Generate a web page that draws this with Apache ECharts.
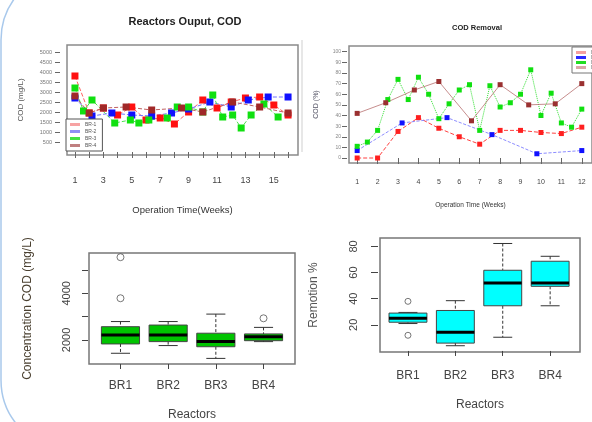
<!DOCTYPE html>
<html>
<head>
<meta charset="utf-8">
<script src="https://cdn.jsdelivr.net/npm/echarts@6/dist/echarts.min.js"></script>
<style>html,body{margin:0;padding:0;background:#fff}#c{width:592px;height:422px}</style>
</head>
<body>
<div id="c"></div>
<script>
// ---------- Panel 1: Reactors Output, COD (mg/L) ----------
const p1WeekTicks = [1,2,3,4,5,6,7,8,9,10,11,12,13,14,15,16];
const p1WeekLabels = [1,3,5,7,9,11,13,15];
const p1CodTicks = [500,1000,1500,2000,2500,3000,3500,4000,4500,5000];
const p1Names = ['BR-1','BR-2','BR-3','BR-4'];
const weeksRed1 = [1,2,3,4,5,6,7,8,9,10,11,12,13,14,15,16];
const codRed = [3800,1950,2200,1850,2250,1600,1700,1400,2000,2600,2200,2500,2700,2750,2350,1850];
const weeksBlue1 = [1,2.2,3.6,5,6.4,7.8,9,10.5,12,13.2,14.6,16];
const codBlue = [2700,1800,1950,1850,1800,1950,2150,2500,2250,2600,2750,2750];
const weeksGreen1 = [1,1.6,2.2,3.8,4.9,5.5,6.2,7.5,8.2,9,10,10.7,11.4,12.1,12.7,13.4,14.3,15.3];
const codGreen = [3200,2050,2600,1450,1600,1450,1600,1700,2250,2250,2000,2850,1750,1850,1200,1850,2400,1750];
const weeksBrown1 = [1,2,3,4.6,6.4,8.5,10,12.1,14,16];
const codBrown = [2800,1950,2200,2250,2100,2200,2000,2500,2250,1950];

// ---------- Panel 2: COD Removal (%) ----------
const p2WeekTicks = [1,2,3,4,5,6,7,8,9,10,11,12];
const p2RemTicks = [0,10,20,30,40,50,60,70,80,90,100];
const p2Names = ['BR1','BR2','BR3','BR4'];
const weeksRed2 = [1,2,3,4,5,6,7,8,9,10,11,12];
const remRed = [0,0,25,38,28,20,13,26,26,24,23,29];
const weeksBlue2 = [1,3.2,5.4,7.6,9.8,12];
const remBlue = [7,33,38,22,4,7];
const weeksGreen2 = [1,1.5,2,2.5,3,3.5,4,4.5,5,5.5,6,6.5,7,7.5,8,8.5,9,9.5,10,10.5,11,11.5,12];
const remGreen = [11,15,26,55,74,55,76,60,37,51,64,69,26,68,48,52,60,83,40,61,33,29,46];
const weeksBrown2 = [1,2.4,3.8,5,6.6,8,9.4,10.7,12];
const remBrown = [42,52,64,72,35,69,50,51,70];

// ---------- Panel 3: box plot COD concentration ----------
const reactors = ['BR1','BR2','BR3','BR4'];
const reactorPos = [1,2,3,4];
const codMin = [1430,1760,1210,1930];
const codQ1 = [1830,1930,1710,1970];
const codMedian = [2210,2210,1930,2140];
const codQ3 = [2570,2640,2290,2260];
const codMax = [2790,2790,3110,2540];
const codOutX = [1,1,4];
const codOutY = [3790,5550,2930];
const p3Ticks = [2000,3000,4000,5000];
const p3Labels = [2000,4000];

// ---------- Panel 4: box plot Removal % ----------
const remMin = [21,4,10.5,34.6];
const remQ1 = [22,6,34.6,49.5];
const remMedian = [25,14.4,52,52];
const remQ3 = [29,31,61.8,68.7];
const remMax = [29.5,38.5,82.3,72.5];
const remOutX = [1,1];
const remOutY = [38,12];
const p4Ticks = [20,40,60,80];

const FONT = 'Liberation Sans, Arial, sans-serif';
const zip = (xs, ys) => xs.map((x, i) => [x, ys[i]]);
const plain = v => String(v);

function boxRenderer(fill) {
  return function (params, api) {
    const x = api.value(0);
    const pMin = api.coord([x, api.value(1)]);
    const pQ1 = api.coord([x, api.value(2)]);
    const pMed = api.coord([x, api.value(3)]);
    const pQ3 = api.coord([x, api.value(4)]);
    const pMax = api.coord([x, api.value(5)]);
    const hw = api.size([0.8, 0])[0] / 2;
    const cw = hw / 2;
    const cx = pMed[0];
    const wl = {stroke: '#333', lineWidth: 1, lineDash: [3, 2]};
    const sl = {stroke: '#333', lineWidth: 1};
    return {
      type: 'group',
      children: [
        {type: 'line', shape: {x1: cx, y1: pMax[1], x2: cx, y2: pQ3[1]}, style: wl},
        {type: 'line', shape: {x1: cx, y1: pQ1[1], x2: cx, y2: pMin[1]}, style: wl},
        {type: 'line', shape: {x1: cx - cw, y1: pMax[1], x2: cx + cw, y2: pMax[1]}, style: sl},
        {type: 'line', shape: {x1: cx - cw, y1: pMin[1], x2: cx + cw, y2: pMin[1]}, style: sl},
        {type: 'rect', shape: {x: cx - hw, y: pQ3[1], width: 2 * hw, height: pQ1[1] - pQ3[1]},
          style: {fill: fill, stroke: '#444', lineWidth: 1}},
        {type: 'line', shape: {x1: cx - hw, y1: pMed[1], x2: cx + hw, y2: pMed[1]},
          style: {stroke: '#000', lineWidth: 3}}
      ]
    };
  };
}

const boxData3 = reactorPos.map((p, i) => [p, codMin[i], codQ1[i], codMedian[i], codQ3[i], codMax[i]]);
const boxData4 = reactorPos.map((p, i) => [p, remMin[i], remQ1[i], remMedian[i], remQ3[i], remMax[i]]);

const axisTxt = {fontFamily: FONT, color: '#444'};

const option = {
  animation: false,
  backgroundColor: '#fff',
  textStyle: {fontFamily: FONT},
  title: [
    {text: 'Reactors Ouput, COD', left: 180, top: 11, textAlign: 'center',
      textStyle: {fontSize: 11, fontWeight: 'bold', color: '#222', fontFamily: FONT}},
    {text: 'COD Removal', left: 472, top: 19, textAlign: 'center',
      textStyle: {fontSize: 7.5, fontWeight: 'bold', color: '#222', fontFamily: FONT}}
  ],
  graphic: [
    {type: 'rect', shape: {x: 1, y: -30, width: 1000, height: 480, r: 70},
      style: {fill: 'none', stroke: '#a9c9ec', lineWidth: 1.5}, silent: true, z: -1},
    {type: 'line', shape: {x1: 302, y1: 40, x2: 302, y2: 152},
      style: {stroke: '#cfcfcf', lineWidth: 1}, silent: true}
  ],
  legend: [
    {
      orient: 'vertical', left: 66, top: 119, itemGap: 2, itemWidth: 10, itemHeight: 3,
      icon: 'rect', padding: [3, 6, 3, 4], backgroundColor: '#fff',
      borderColor: '#555', borderWidth: 1, z: 10,
      textStyle: {fontSize: 5, color: '#555', fontFamily: FONT},
      data: [
        {name: 'BR-1', itemStyle: {color: '#f7a3a3'}},
        {name: 'BR-2', itemStyle: {color: '#8f8ff5'}},
        {name: 'BR-3', itemStyle: {color: '#44e044'}},
        {name: 'BR-4', itemStyle: {color: '#c08080'}}
      ]
    },
    {
      orient: 'vertical', left: 572, top: 47, itemGap: 0, itemWidth: 10, itemHeight: 3,
      icon: 'rect', padding: [3, 6, 3, 4], backgroundColor: '#fff',
      borderColor: '#777', borderWidth: 1, z: 10,
      textStyle: {fontSize: 5, color: '#777', fontFamily: FONT},
      data: [
        {name: 'BR1', itemStyle: {color: '#f5a0a0'}},
        {name: 'BR2', itemStyle: {color: '#2a2aff'}},
        {name: 'BR3', itemStyle: {color: '#22dd22'}},
        {name: 'BR4', itemStyle: {color: '#d9a8a8'}}
      ]
    }
  ],
  grid: [
    {left: 67, top: 45, width: 231, height: 110, show: true, borderColor: '#8a8a8a', borderWidth: 1.5, backgroundColor: '#fff'},
    {left: 349, top: 46, width: 247, height: 117, show: true, borderColor: '#8a8a8a', borderWidth: 1.5, backgroundColor: '#fff'},
    {left: 89, top: 253, width: 206, height: 111, show: true, borderColor: '#777', borderWidth: 1.5, backgroundColor: '#fff'},
    {left: 380, top: 238, width: 200, height: 114, show: true, borderColor: '#777', borderWidth: 1.5, backgroundColor: '#fff'}
  ],
  xAxis: [
    {gridIndex: 0, type: 'value', min: 0.44, max: 16.7, offset: 3,
      axisLine: {show: false}, splitLine: {show: false},
      axisTick: {customValues: p1WeekTicks, length: 6, lineStyle: {color: '#666'}},
      axisLabel: {customValues: p1WeekLabels, formatter: plain, fontSize: 9, margin: 18, ...axisTxt},
      name: 'Operation Time(Weeks)', nameLocation: 'middle', nameGap: 47,
      nameTextStyle: {fontSize: 9.5, color: '#333', fontFamily: FONT}},
    {gridIndex: 1, type: 'value', min: 0.6, max: 12.5,
      axisLine: {show: false}, splitLine: {show: false},
      axisTick: {customValues: p2WeekTicks, length: 6, lineStyle: {color: '#666'}},
      axisLabel: {customValues: p2WeekTicks, formatter: plain, fontSize: 7, margin: 16, ...axisTxt},
      name: 'Operation Time (Weeks)', nameLocation: 'middle', nameGap: 39,
      nameTextStyle: {fontSize: 6.5, color: '#333', fontFamily: FONT}},
    {gridIndex: 2, type: 'value', min: 0.34, max: 4.66,
      axisLine: {show: false}, splitLine: {show: false},
      axisTick: {customValues: reactorPos, length: 5, lineStyle: {color: '#444'}},
      axisLabel: {customValues: reactorPos, formatter: v => reactors[Math.round(v) - 1], fontSize: 12, margin: 16, ...axisTxt},
      name: 'Reactors', nameLocation: 'middle', nameGap: 45,
      nameTextStyle: {fontSize: 12, color: '#444', fontFamily: FONT}},
    {gridIndex: 3, type: 'value', min: 0.41, max: 4.63,
      axisLine: {show: false}, splitLine: {show: false},
      axisTick: {customValues: reactorPos, length: 5, lineStyle: {color: '#444'}},
      axisLabel: {customValues: reactorPos, formatter: v => reactors[Math.round(v) - 1], fontSize: 12, margin: 18, ...axisTxt},
      name: 'Reactors', nameLocation: 'middle', nameGap: 47,
      nameTextStyle: {fontSize: 12, color: '#444', fontFamily: FONT}}
  ],
  yAxis: [
    {gridIndex: 0, type: 'value', min: -150, max: 5350, offset: 7,
      axisLine: {show: false}, splitLine: {show: false},
      axisTick: {customValues: p1CodTicks, length: 5, lineStyle: {color: '#666'}},
      axisLabel: {customValues: p1CodTicks, formatter: plain, fontSize: 5.5, margin: 8, ...axisTxt, color: '#777'},
      name: 'COD (mg/L)', nameLocation: 'middle', nameGap: 35, nameRotate: 90,
      nameTextStyle: {fontSize: 8, color: '#555', fontFamily: FONT}},
    {gridIndex: 1, type: 'value', min: -4.7, max: 105.4, offset: 2,
      axisLine: {show: false}, splitLine: {show: false},
      axisTick: {customValues: p2RemTicks, length: 5, lineStyle: {color: '#666'}},
      axisLabel: {customValues: p2RemTicks, formatter: plain, fontSize: 5, margin: 6, ...axisTxt, color: '#888'},
      name: 'COD (%)', nameLocation: 'middle', nameGap: 27, nameRotate: 90,
      nameTextStyle: {fontSize: 7, color: '#556', fontFamily: FONT}},
    {gridIndex: 2, type: 'value', min: 970, max: 5730, offset: 1,
      axisLine: {show: false}, splitLine: {show: false},
      axisTick: {customValues: p3Ticks, length: 6, lineStyle: {color: '#444'}},
      axisLabel: {customValues: p3Labels, formatter: plain, rotate: 90, fontSize: 11, margin: 16, ...axisTxt},
      name: 'Concentration COD (mg/L)', nameLocation: 'middle', nameGap: 54, nameRotate: 90,
      nameTextStyle: {fontSize: 12, color: '#4a4030', fontFamily: FONT}},
    {gridIndex: 3, type: 'value', min: -0.8, max: 86.5, offset: 2,
      axisLine: {show: false}, splitLine: {show: false},
      axisTick: {customValues: p4Ticks, length: 7, lineStyle: {color: '#444'}},
      axisLabel: {customValues: p4Ticks, formatter: plain, rotate: 90, fontSize: 11, margin: 19, ...axisTxt},
      name: 'Remotion %', nameLocation: 'middle', nameGap: 58, nameRotate: 90,
      nameTextStyle: {fontSize: 12, color: '#555', fontFamily: FONT}}
  ],
  series: [
    // Panel 1
    {name: p1Names[0], type: 'line', xAxisIndex: 0, yAxisIndex: 0, data: zip(weeksRed1, codRed),
      symbol: 'rect', symbolSize: 7, itemStyle: {color: '#ff1010'}, lineStyle: {type: 'dashed', width: 1, color: '#ff6060'}},
    {name: p1Names[1], type: 'line', xAxisIndex: 0, yAxisIndex: 0, data: zip(weeksBlue1, codBlue),
      symbol: 'rect', symbolSize: 7, itemStyle: {color: '#1010ff'}, lineStyle: {type: 'dashed', width: 1, color: '#7070ff'}},
    {name: p1Names[2], type: 'line', xAxisIndex: 0, yAxisIndex: 0, data: zip(weeksGreen1, codGreen),
      symbol: 'rect', symbolSize: 7, itemStyle: {color: '#10e010'}, lineStyle: {type: 'dashed', width: 1, color: '#50e050'}},
    {name: p1Names[3], type: 'line', xAxisIndex: 0, yAxisIndex: 0, data: zip(weeksBrown1, codBrown),
      symbol: 'rect', symbolSize: 7, itemStyle: {color: '#a02828'}, lineStyle: {type: 'dashed', width: 1, color: '#c06060'}},
    // Panel 2
    {name: p2Names[0], type: 'line', xAxisIndex: 1, yAxisIndex: 1, data: zip(weeksRed2, remRed),
      symbol: 'rect', symbolSize: 5, itemStyle: {color: '#ff2020'}, lineStyle: {type: 'dashed', width: 1, color: '#ff4040'}},
    {name: p2Names[1], type: 'line', xAxisIndex: 1, yAxisIndex: 1, data: zip(weeksBlue2, remBlue),
      symbol: 'rect', symbolSize: 5, itemStyle: {color: '#1010ff'}, lineStyle: {type: 'dashed', width: 0.8, color: '#7070ff'}},
    {name: p2Names[2], type: 'line', xAxisIndex: 1, yAxisIndex: 1, data: zip(weeksGreen2, remGreen),
      symbol: 'rect', symbolSize: 5, itemStyle: {color: '#10e010'}, lineStyle: {type: 'dotted', width: 1, color: '#30e030'}},
    {name: p2Names[3], type: 'line', xAxisIndex: 1, yAxisIndex: 1, data: zip(weeksBrown2, remBrown),
      symbol: 'rect', symbolSize: 5, itemStyle: {color: '#9a3030'}, lineStyle: {type: 'solid', width: 0.8, color: '#b87070'}},
    // Panel 3
    {type: 'custom', xAxisIndex: 2, yAxisIndex: 2, data: boxData3, renderItem: boxRenderer('#00c400'),
      encode: {x: 0, y: [1, 2, 3, 4, 5]}},
    {type: 'scatter', xAxisIndex: 2, yAxisIndex: 2, data: zip(codOutX, codOutY), symbol: 'circle', symbolSize: 7,
      itemStyle: {color: 'rgba(255,255,255,0)', borderColor: '#555', borderWidth: 1}},
    // Panel 4
    {type: 'custom', xAxisIndex: 3, yAxisIndex: 3, data: boxData4, renderItem: boxRenderer('#00ffff'),
      encode: {x: 0, y: [1, 2, 3, 4, 5]}},
    {type: 'scatter', xAxisIndex: 3, yAxisIndex: 3, data: zip(remOutX, remOutY), symbol: 'circle', symbolSize: 6,
      itemStyle: {color: 'rgba(255,255,255,0)', borderColor: '#555', borderWidth: 1}}
  ]
};

const chart = echarts.init(document.getElementById('c'), null, {renderer: 'canvas'});
chart.setOption(option);
</script>
</body>
</html>
